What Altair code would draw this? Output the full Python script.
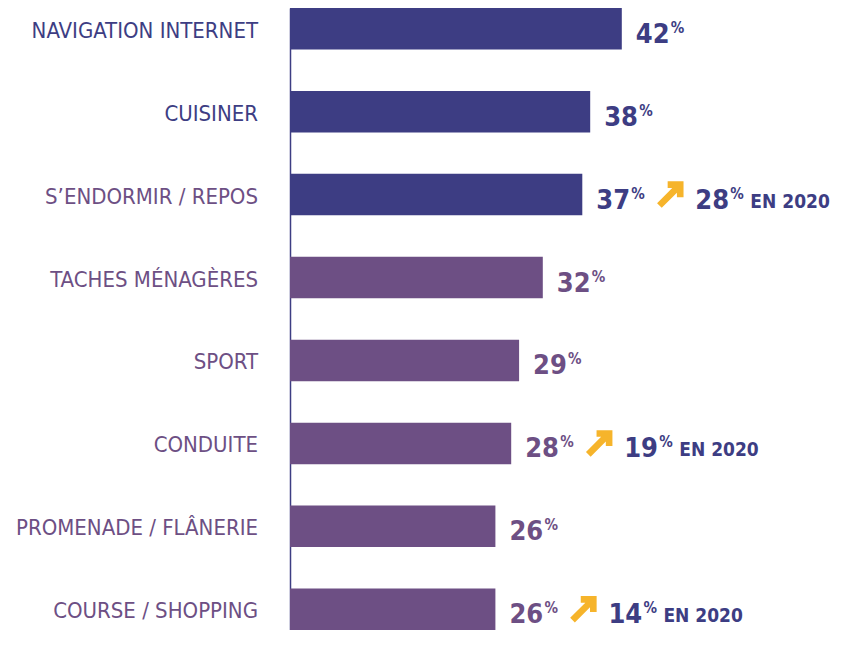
import altair as alt
import pandas as pd

categories = ["NAVIGATION INTERNET", "CUISINER", "S’ENDORMIR / REPOS", "TACHES MÉNAGÈRES",
              "SPORT", "CONDUITE", "PROMENADE / FLÂNERIE", "COURSE / SHOPPING"]
values = [42, 38, 37, 32, 29, 28, 26, 26]
values_2020 = [None, None, 28, None, None, 19, None, 14]

BLUE = "#3d3d83"
PURPLE = "#6d4f84"
YELLOW = "#f6b42b"

bar_colors = [BLUE, BLUE, BLUE] + [PURPLE] * 5
label_colors = [BLUE, BLUE] + [PURPLE] * 6
value_colors = [BLUE, BLUE, BLUE] + [PURPLE] * 5

df = pd.DataFrame({
    "cat": categories,
    "val": values,
    "prev": values_2020,
    "barc": bar_colors,
    "labc": label_colors,
    "valc": value_colors,
})

FONT = "DejaVu Sans Condensed, sans-serif"

y = alt.Y("cat:N", sort=None,
          scale=alt.Scale(paddingInner=0.5, paddingOuter=0),
          axis=alt.Axis(labels=False, ticks=False, title=None, domainColor=BLUE,
                        domainWidth=1.5, grid=False))
x = alt.X("val:Q", scale=alt.Scale(domain=[0, 50]), axis=None)

base = alt.Chart(df).encode(y=y)

bars = base.mark_bar().encode(x=x, color=alt.Color("barc:N", scale=None))

cat_labels = base.mark_text(align="right", baseline="alphabetic", dx=-32, dy=9,
                            font=FONT, fontSize=22, fontWeight="normal").encode(
    x=alt.value(0), text="cat:N", color=alt.Color("labc:N", scale=None))

num = base.mark_text(align="left", baseline="alphabetic", dx=14, dy=14,
                     font=FONT, fontSize=27, fontWeight="bold").encode(
    x=x, text="val:Q", color=alt.Color("valc:N", scale=None))

pct = base.mark_text(align="left", baseline="alphabetic", dx=49, dy=4,
                     font=FONT, fontSize=15, fontWeight="bold").encode(
    x=x, text=alt.value("%"), color=alt.Color("valc:N", scale=None))

arrow_path = ("M-0.2,-1L1,-1L1,0.2L0.5,0.2L0.5,-0.146L-0.646,1"
              "L-1,0.646L0.146,-0.5L-0.2,-0.5Z")

prev_base = base.transform_filter("isValid(datum.prev)")

arrow = prev_base.mark_point(shape=arrow_path, filled=True, size=700, opacity=1,
                             fill=YELLOW, strokeWidth=0,
                             xOffset=88).encode(x=x)

prev_num = prev_base.mark_text(align="left", baseline="alphabetic", dx=113, dy=14,
                               font=FONT, fontSize=27, fontWeight="bold", color=BLUE).encode(
    x=x, text=alt.Text("prev:Q", format="d"))

prev_pct = prev_base.mark_text(align="left", baseline="alphabetic", dx=148, dy=4,
                               font=FONT, fontSize=15, fontWeight="bold", color=BLUE).encode(
    x=x, text=alt.value("%"))

en2020 = prev_base.mark_text(align="left", baseline="alphabetic", dx=168, dy=13,
                             font=FONT, fontSize=19, fontWeight="bold", color=BLUE).encode(
    x=x, text=alt.value("EN 2020"))

chart = alt.layer(bars, cat_labels, num, pct, arrow, prev_num, prev_pct, en2020).properties(
    width=395, height=622,
    padding={"left": 282, "top": 0, "right": 155, "bottom": 0},
    autosize=alt.AutoSizeParams(type="none"),
    background="white",
).configure_view(strokeWidth=0, stroke="transparent")

chart.save("out.html", embed_options={"renderer": "svg", "actions": False})
